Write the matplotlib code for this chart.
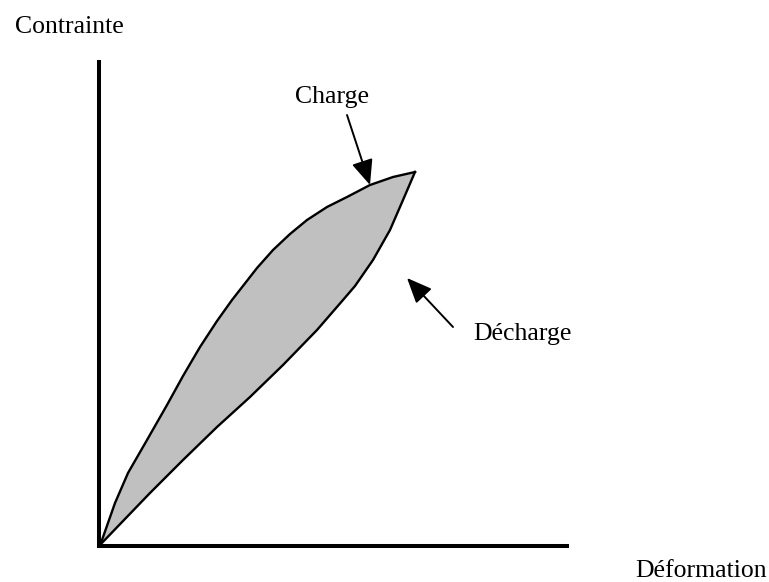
import matplotlib.pyplot as plt

# loading / unloading curves (deformation, stress) in arbitrary units
charge_x = [0, 3, 16, 29, 48, 68, 84, 101, 118, 133, 158, 174, 191, 208, 228, 248, 271, 294, 316]
charge_y = [0, 6, 43, 73, 106, 141, 170, 199, 225, 246, 278, 296, 312, 326, 339, 349, 361, 369, 374]
decharge_x = [316, 304, 291, 274, 256, 244, 218, 184, 151, 118, 84, 51, 25, 0]
decharge_y = [374, 346, 316, 286, 260, 246, 216, 181, 149, 119, 86, 53, 26, 0]

plt.rcParams['font.family'] = ['Liberation Serif', 'DejaVu Serif']

fig = plt.figure(figsize=(7.69, 5.82), dpi=100)
ax = fig.add_axes([99 / 769, 36 / 582, 468 / 769, 484 / 582])
ax.set_xlim(0, 468)
ax.set_ylim(0, 484)

ax.fill(charge_x + decharge_x, charge_y + decharge_y, color='#c0c0c0', lw=0)
ax.plot(charge_x, charge_y, color='black', lw=1.7, solid_joinstyle='round')
ax.plot(decharge_x, decharge_y, color='black', lw=1.7, solid_joinstyle='round')

for s in ['top', 'right']:
    ax.spines[s].set_visible(False)
for s in ['left', 'bottom']:
    ax.spines[s].set_linewidth(2.9)
    ax.spines[s].set_capstyle('projecting')
ax.set_xticks([])
ax.set_yticks([])
ax.patch.set_alpha(0)

arrow = dict(arrowstyle='-|>,head_length=0.7,head_width=0.3', color='black',
             lw=1.4, mutation_scale=22, shrinkA=0, shrinkB=0)
ax.annotate('', xy=(271, 361), xytext=(248, 431), arrowprops=arrow)
ax.annotate('', xy=(308, 268), xytext=(354, 219), arrowprops=arrow)

fs = 18.5
fig.text(295 / 769, 1 - 103 / 582, 'Charge', fontsize=fs, va='baseline')
fig.text(473 / 769, 1 - 340 / 582, 'Décharge', fontsize=fs, va='baseline')
fig.text(15 / 769, 1 - 33 / 582, 'Contrainte', fontsize=fs, va='baseline')
fig.text(635 / 769, 1 - 577 / 582, 'Déformation', fontsize=fs, va='baseline')

fig.savefig('out.png', dpi=100)
